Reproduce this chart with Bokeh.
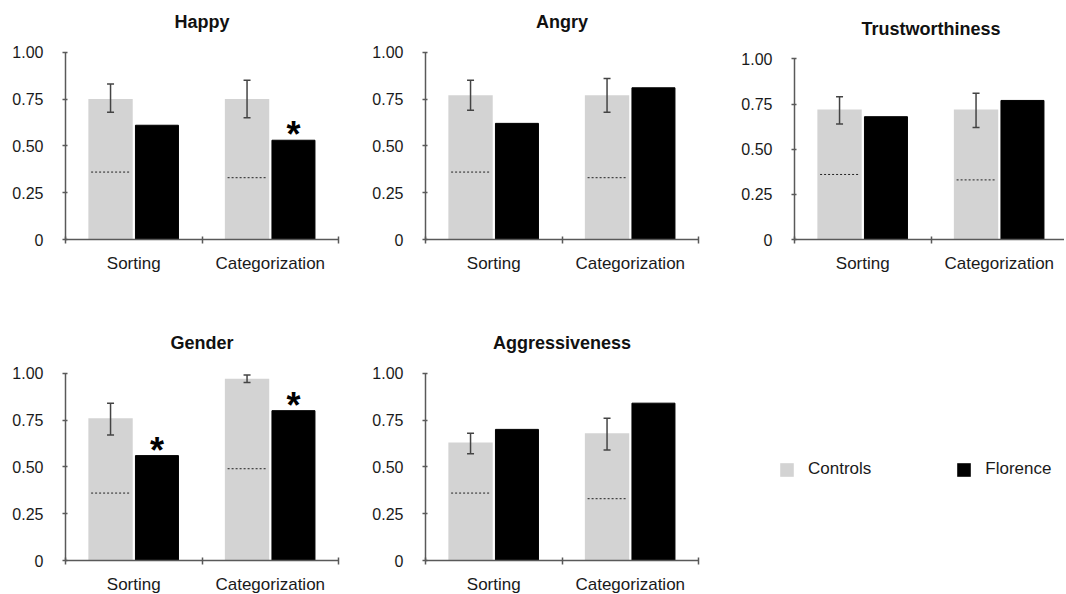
from bokeh.plotting import figure
from bokeh.models import (Range1d, FixedTicker, Whisker, TeeHead, ColumnDataSource,
                          Legend, LegendItem, Label)
from bokeh.layouts import row, column
from bokeh.core.properties import value
from bokeh.embed import file_html
from bokeh.resources import INLINE

# ---------------- data ----------------
emotions = ["Happy", "Angry", "Trustworthiness", "Gender", "Aggressiveness"]
tasks = ["Sorting", "Categorization"]
series = ["Controls", "Florence"]

controls_mean = [[0.75, 0.75], [0.77, 0.77], [0.72, 0.72], [0.76, 0.97], [0.63, 0.68]]
controls_lower = [[0.68, 0.65], [0.69, 0.68], [0.64, 0.62], [0.67, 0.95], [0.57, 0.59]]
controls_upper = [[0.83, 0.85], [0.85, 0.86], [0.79, 0.81], [0.84, 0.99], [0.68, 0.76]]
florence_score = [[0.61, 0.53], [0.62, 0.81], [0.68, 0.77], [0.56, 0.80], [0.70, 0.84]]
chance_level = [[0.36, 0.33], [0.36, 0.33], [0.36, 0.33], [0.36, 0.49], [0.36, 0.33]]
significant = [[False, True], [False, False], [False, False], [True, True], [False, False]]
y_ticks = [0, 0.25, 0.5, 0.75, 1.0]
y_tick_labels = ["0", "0.25", "0.50", "0.75", "1.00"]

CTRL_COLOR = "#d3d3d3"
FLO_COLOR = "#000000"
AXIS_COLOR = "#595959"
FONT = "Liberation Sans"

BAR_W = 0.325
OFF = 0.17
FRAME_H = 239


def make_panel(i, frame_w, x_end, left, right, bottom, y_end):
    p = figure(output_backend="svg", toolbar_location=None,
               frame_width=frame_w, frame_height=FRAME_H,
               x_range=Range1d(0, x_end), y_range=Range1d(0, y_end),
               min_border_left=left, min_border_right=right,
               min_border_top=0, min_border_bottom=bottom)
    p.outline_line_color = None
    p.xgrid.visible = False
    p.ygrid.visible = False
    p.background_fill_color = None
    p.border_fill_color = None

    # panel title, floating above the top of the value axis
    p.add_layout(Label(x=1.0, y=1.0, text=emotions[i], text_font=FONT,
                       text_font_size="18px", text_font_style="bold",
                       text_color="#111111", text_align="center",
                       text_baseline="middle", y_offset=30))

    centers = [j + 0.5 for j in range(len(tasks))]
    cx = [c - OFF for c in centers]
    fx = [c + OFF for c in centers]

    p.vbar(x=cx, top=controls_mean[i], bottom=0, width=BAR_W,
           fill_color=CTRL_COLOR, line_color=None)
    p.vbar(x=fx, top=florence_score[i], bottom=0, width=BAR_W - 0.01,
           fill_color=FLO_COLOR, line_color=FLO_COLOR, line_width=1)

    # chance level (dotted)
    half = BAR_W / 2 - 0.02
    p.segment(x0=[x - half for x in cx], x1=[x + half for x in cx],
              y0=chance_level[i], y1=chance_level[i],
              line_color="#222222", line_width=1, line_dash="2 2")

    # error bars
    src = ColumnDataSource(dict(x=cx, lo=controls_lower[i], hi=controls_upper[i]))
    w = Whisker(base="x", lower="lo", upper="hi", source=src, dimension="height",
                line_color="#444444", line_width=1.5, level="overlay",
                upper_head=TeeHead(size=7, line_color="#444444", line_width=1.5),
                lower_head=TeeHead(size=7, line_color="#444444", line_width=1.5))
    p.add_layout(w)

    # significance stars
    sx = [fx[j] for j in range(len(tasks)) if significant[i][j]]
    sy = [florence_score[i][j] for j in range(len(tasks)) if significant[i][j]]
    if sx:
        p.text(x=sx, y=sy, text=["*"] * len(sx), text_font=value(FONT),
               text_font_size="36px", text_font_style="bold",
               text_align="center", text_baseline="bottom",
               y_offset=15, text_color="#000000")

    # x axis
    xa = p.xaxis[0]
    xa.ticker = FixedTicker(ticks=centers, minor_ticks=[0, 1, 2])
    xa.major_label_overrides = {c: t for c, t in zip(centers, tasks)}
    xa.major_tick_in = 0
    xa.major_tick_out = 0
    xa.minor_tick_in = 3
    xa.minor_tick_out = 4
    xa.minor_tick_line_color = AXIS_COLOR
    xa.minor_tick_line_width = 1.5
    xa.axis_line_color = AXIS_COLOR
    xa.axis_line_width = 1.5
    xa.major_label_text_font = FONT
    xa.major_label_text_font_size = "17px"
    xa.major_label_text_color = "#1a1a1a"
    xa.major_label_standoff = 10

    # y axis
    ya = p.yaxis[0]
    ya.ticker = FixedTicker(ticks=y_ticks)
    ya.bounds = (0, 1.0)
    ya.major_label_overrides = {t: l for t, l in zip(y_ticks, y_tick_labels)}
    ya.minor_tick_line_color = None
    ya.major_tick_in = 2
    ya.major_tick_out = 3
    ya.major_tick_line_color = AXIS_COLOR
    ya.major_tick_line_width = 1.5
    ya.axis_line_color = AXIS_COLOR
    ya.axis_line_width = 1.5
    ya.major_label_text_font = FONT
    ya.major_label_text_font_size = "16px"
    ya.major_label_text_color = "#1a1a1a"
    ya.major_label_standoff = 19
    return p


Y_END = FRAME_H / 187.3      # 1.00 sits 187 px above the baseline
Y_END3 = FRAME_H / 180.6     # Trustworthiness panel is a little shorter

p1 = make_panel(0, 273, 2.0, 65, 30, 82, Y_END)
p2 = make_panel(1, 273, 2.0, 57, 39, 82, Y_END)
p3 = make_panel(2, 270, 270 / 136.5, 57, 0, 82, Y_END3)
p4 = make_panel(3, 273, 2.0, 65, 30, 32, Y_END)
p5 = make_panel(4, 273, 2.0, 57, 39, 32, Y_END)

# legend panel
pl = figure(output_backend="svg", toolbar_location=None, width=327, height=271,
            x_axis_type=None, y_axis_type=None, x_range=Range1d(0, 1), y_range=Range1d(0, 1),
            min_border=0)
pl.outline_line_color = None
pl.xgrid.visible = False
pl.ygrid.visible = False
# renderers only used as legend swatches (their data lies outside the visible range)
rc = pl.vbar(x=[-5], top=[0], width=0.1, fill_color=CTRL_COLOR, line_color=None)
rf = pl.vbar(x=[-5], top=[0], width=0.1, fill_color=FLO_COLOR, line_color=None)
leg = Legend(items=[LegendItem(label=series[0], renderers=[rc]),
                    LegendItem(label=series[1], renderers=[rf])],
             orientation="horizontal", location=(41, 77),
             glyph_width=17, glyph_height=17, label_standoff=13, spacing=84,
             padding=0, margin=0, border_line_color=None, background_fill_alpha=0,
             label_text_font=FONT, label_text_font_size="17px", label_text_color="#1a1a1a")
pl.add_layout(leg, "center")

layout = column(row(p1, p2, p3), row(p4, p5, pl))

open("out.html", "w").write(file_html(layout, INLINE))
